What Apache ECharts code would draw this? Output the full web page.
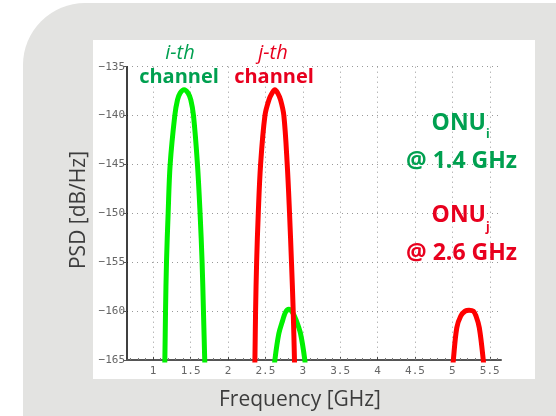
<!DOCTYPE html>
<html>
<head>
<meta charset="utf-8">
<script src="https://cdn.jsdelivr.net/npm/echarts@6/dist/echarts.min.js"></script>
<style>html,body{margin:0;padding:0;background:#fff;}#c{width:556px;height:416px;}</style>
</head>
<body>
<div id="c"></div>
<script>
// Frequency ticks (GHz) and PSD range (dB/Hz)
var xTicks = [1, 1.5, 2, 2.5, 3, 3.5, 4, 4.5, 5, 5.5];
var yTicks = [-165, -160, -155, -150, -145, -140, -135];

// i-th channel (ONU_i @ 1.4 GHz) main lobe: [GHz, dB/Hz]
var greenMain = [[1.150,-166],[1.156,-165],[1.165,-160],[1.178,-155],[1.200,-150],[1.227,-145],[1.289,-140],[1.325,-138.4],[1.360,-137.7],[1.413,-137.35],[1.467,-137.7],[1.503,-138.4],[1.539,-140],[1.592,-145],[1.627,-150],[1.654,-155],[1.672,-160],[1.689,-165],[1.692,-166]];
// i-th channel image lobe
var greenSide = [[2.620,-166],[2.627,-165],[2.680,-162.3],[2.733,-160.9],[2.770,-160.1],[2.813,-159.8],[2.860,-160.1],[2.910,-160.9],[2.970,-162.3],[3.027,-165],[3.033,-166]];
// j-th channel (ONU_j @ 2.6 GHz) main lobe
var redMain = [[2.355,-166],[2.360,-165],[2.369,-160],[2.383,-155],[2.405,-150],[2.436,-145],[2.494,-140],[2.547,-138.4],[2.590,-137.7],[2.627,-137.35],[2.665,-137.7],[2.703,-138.4],[2.747,-140],[2.792,-145],[2.823,-150],[2.849,-155],[2.872,-160],[2.889,-165],[2.892,-166]];
// j-th channel image lobe
var redSide = [[5.005,-166],[5.013,-165],[5.059,-161.7],[5.112,-160.5],[5.170,-160.0],[5.223,-159.9],[5.280,-160.0],[5.316,-160.5],[5.360,-161.7],[5.413,-165],[5.420,-166]];

var GREEN_LINE = '#00f000', RED_LINE = '#ff0000';
var GREEN_TXT = '#00a050', RED_TXT = '#e8001e';
var FONT = '"Open Sans", "Noto Sans", sans-serif';
var MONO = '"DejaVu Sans Mono", monospace';

var chart = echarts.init(document.getElementById('c'), null, {renderer: 'canvas'});

function lineSeries(data, color) {
  return {
    type: 'line', data: data, symbol: 'none', smooth: 0.35, clip: true,
    lineStyle: {color: color, width: 5}, animation: false, z: 3
  };
}

chart.setOption({
  animation: false,
  backgroundColor: '#ffffff',
  graphic: [
    {type: 'rect', z: -10, shape: {x: 23, y: 3, width: 620, height: 520, r: 62}, style: {fill: '#e3e3e1'}},
    {type: 'rect', z: -9, shape: {x: 93, y: 40, width: 442, height: 339}, style: {fill: '#ffffff'}},
    {type: 'text', z: 10, x: 180, y: 53, style: {text: 'i-th', font: 'italic 20px ' + FONT, fill: GREEN_TXT, align: 'center', verticalAlign: 'middle'}},
    {type: 'text', z: 10, x: 179, y: 77, style: {text: 'channel', font: 'bold 20px ' + FONT, fill: GREEN_TXT, align: 'center', verticalAlign: 'middle'}},
    {type: 'text', z: 10, x: 273, y: 53, style: {text: 'j-th', font: 'italic 20px ' + FONT, fill: RED_TXT, align: 'center', verticalAlign: 'middle'}},
    {type: 'text', z: 10, x: 274, y: 77, style: {text: 'channel', font: 'bold 20px ' + FONT, fill: RED_TXT, align: 'center', verticalAlign: 'middle'}},
    {type: 'text', z: 10, x: 486, y: 123, style: {text: 'ONU', font: 'bold 23px ' + FONT, fill: GREEN_TXT, align: 'right', verticalAlign: 'middle'}},
    {type: 'text', z: 10, x: 486, y: 135, style: {text: 'i', font: 'bold 12px ' + FONT, fill: GREEN_TXT, align: 'left', verticalAlign: 'middle'}},
    {type: 'text', z: 10, x: 517, y: 161, style: {text: '@ 1.4 GHz', font: 'bold 23px ' + FONT, fill: GREEN_TXT, align: 'right', verticalAlign: 'middle'}},
    {type: 'text', z: 10, x: 486, y: 215, style: {text: 'ONU', font: 'bold 23px ' + FONT, fill: RED_TXT, align: 'right', verticalAlign: 'middle'}},
    {type: 'text', z: 10, x: 486, y: 228, style: {text: 'j', font: 'bold 12px ' + FONT, fill: RED_TXT, align: 'left', verticalAlign: 'middle'}},
    {type: 'text', z: 10, x: 517, y: 253, style: {text: '@ 2.6 GHz', font: 'bold 23px ' + FONT, fill: RED_TXT, align: 'right', verticalAlign: 'middle'}},
    {type: 'text', z: 10, x: 79, y: 210, rotation: Math.PI / 2, style: {text: 'PSD [dB/Hz]', font: '21px ' + FONT, fill: '#3c3c3c', align: 'center', verticalAlign: 'middle'}},
    {type: 'text', z: 10, x: 300, y: 400, style: {text: 'Frequency [GHz]', font: '21px ' + FONT, fill: '#3c3c3c', align: 'center', verticalAlign: 'middle'}}
  ],
  grid: {left: 127, right: 55, top: 66.7, bottom: 56, containLabel: false},
  xAxis: {
    type: 'value', min: 0.65, max: 5.65,
    axisLine: {show: true, onZero: false, lineStyle: {color: '#555', width: 2}},
    axisTick: {show: true, inside: true, length: 3, customValues: xTicks, lineStyle: {color: '#444'}},
    minorTick: {show: true, splitNumber: 10, length: 2, lineStyle: {color: '#777'}},
    axisLabel: {customValues: xTicks, color: '#666', fontFamily: MONO, fontSize: 11, margin: 6,
      formatter: function (v) { return String(v); }},
    splitLine: {show: true, lineStyle: {color: '#999', type: [1, 4], width: 1}}
  },
  yAxis: {
    type: 'value', min: -165, max: -135, interval: 5,
    axisLine: {show: true, onZero: false, lineStyle: {color: '#000', width: 1.5}},
    axisTick: {show: true, inside: false, length: 4, lineStyle: {color: '#555'}},
    axisLabel: {color: '#666', fontFamily: MONO, fontSize: 11, margin: 2,
      formatter: function (v) { return String(v).replace('-', '\u2212'); }},
    splitLine: {show: true, lineStyle: {color: '#999', type: [1, 4], width: 1}}
  },
  series: [
    lineSeries(greenMain, GREEN_LINE),
    lineSeries(greenSide, GREEN_LINE),
    lineSeries(redMain, RED_LINE),
    lineSeries(redSide, RED_LINE)
  ]
});
</script>
</body>
</html>
